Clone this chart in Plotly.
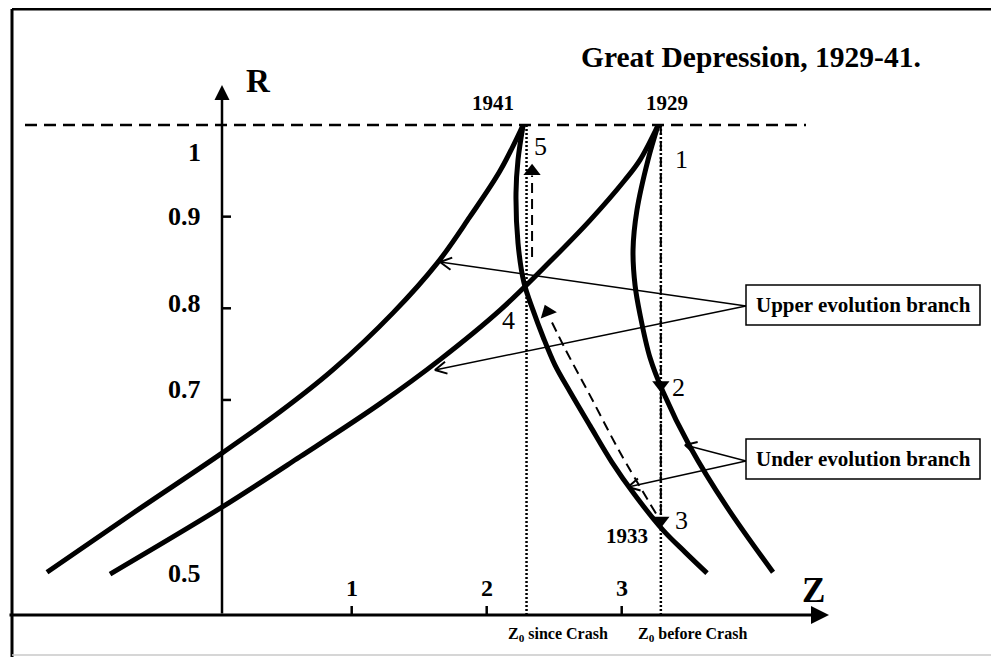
import math
import plotly.graph_objects as go

# ---------------- data (Z, R) ----------------
# Upper evolution branch ending at 1941 (left curve)
UP41_Z = [-1.257, -0.605, 0.039, 0.469, 0.862, 1.306, 1.632, 1.876, 2.099, 2.27]
UP41_R = [0.512, 0.578, 0.642, 0.687, 0.733, 0.795, 0.849, 0.900, 0.950, 1.0]
# Upper evolution branch ending at 1929
UP29_Z = [-0.790, 0.039, 0.617, 1.210, 1.654, 2.099, 2.469, 2.765, 3.024, 3.136, 3.27]
UP29_R = [0.510, 0.583, 0.638, 0.696, 0.744, 0.798, 0.851, 0.896, 0.940, 0.962, 1.0]
# Under evolution branch starting at 1941
UN41_Z = [2.27, 2.232, 2.217, 2.232, 2.276, 2.343, 2.417, 2.506, 2.617, 2.765, 2.928, 3.099,
          3.306, 3.469, 3.632]
UN41_R = [1.0, 0.962, 0.926, 0.871, 0.828, 0.798, 0.769, 0.738, 0.709, 0.672, 0.632, 0.596,
          0.558, 0.534, 0.511]
# Under evolution branch starting at 1929
UN29_Z = [3.27, 3.195, 3.113, 3.084, 3.099, 3.136, 3.210, 3.306, 3.506, 3.780, 4.121]
UN29_R = [1.0, 0.962, 0.907, 0.864, 0.825, 0.793, 0.746, 0.709, 0.649, 0.583, 0.512]

# Path of the economy (dashed arrows)
R_TOP = 1.0
Z0_SINCE = 2.295
Z0_BEFORE = 3.29
R_P2 = 0.709
R_P3 = 0.561
PATH34_Z = [3.254, 2.987, 2.765, 2.580, 2.469, 2.432]
PATH34_R = [0.576, 0.643, 0.705, 0.756, 0.789, 0.803]
PATH45_Z = [2.336, 2.336]
PATH45_R = [0.856, 0.957]

# Axes
Z_TICKS = [1, 2, 3]
Z_TICK_LABELS = ["1", "2", "3"]
R_TICKS = [0.9, 0.8, 0.7]
R_LABEL_VALUES = [1.0, 0.9, 0.8, 0.7, 0.5]
R_LABELS = ["1", "0.9", "0.8", "0.7", "0.5"]

# Callouts: box anchor (Z, R) and the curve points they point at
UPPER_ANCHOR = (3.921, 0.8025)
UPPER_TARGETS = [(1.654, 0.8505), (1.617, 0.7327)]
UNDER_ANCHOR = (3.921, 0.6334)
UNDER_TARGETS = [(3.469, 0.6508), (3.047, 0.6050)]

# ---------------- layout helpers ----------------
# page body has an 8px margin: the figure occupies window pixels 8..999 x 8..657
OFF = 8
W, H = 999 - OFF, 657 - OFF
PX_PER_Z = 135.0
PX_PER_R = 916.5
X_RANGE = [(OFF - 216.7) / PX_PER_Z, (999 - 216.7) / PX_PER_Z]
Y_RANGE = [1 - (657 - 125) / PX_PER_R, 1 + (125 - OFF) / PX_PER_R]
R_BASE = 0.4654
FONT = "Liberation Serif, Times New Roman, serif"


def px(x):
    return (x - OFF) / W


def py(y):
    return 1 - (y - OFF) / H


def unit(tail, tip):
    dx = (tip[0] - tail[0]) * PX_PER_Z
    dy = (tip[1] - tail[1]) * PX_PER_R
    L = math.hypot(dx, dy)
    return dx / L, dy / L


fig = go.Figure()

for zs, rs in [(UP41_Z, UP41_R), (UP29_Z, UP29_R), (UN41_Z, UN41_R), (UN29_Z, UN29_R)]:
    fig.add_trace(go.Scatter(x=zs, y=rs, mode="lines",
                             line=dict(color="black", width=5, shape="spline", smoothing=1.0),
                             hoverinfo="skip", showlegend=False))

DASH = "10px,6px"
# 1 -> 2, 2 -> 3
fig.add_trace(go.Scatter(x=[Z0_BEFORE, Z0_BEFORE], y=[R_TOP, R_P2 + 0.012], mode="lines",
                         line=dict(color="black", width=2, dash=DASH), showlegend=False))
fig.add_trace(go.Scatter(x=[Z0_BEFORE, Z0_BEFORE], y=[R_P2, R_P3 + 0.012], mode="lines",
                         line=dict(color="black", width=2, dash=DASH), showlegend=False))
# 3 -> 4
fig.add_trace(go.Scatter(x=PATH34_Z[:-1], y=PATH34_R[:-1], mode="lines",
                         line=dict(color="black", width=2, dash=DASH, shape="spline"),
                         showlegend=False))
# 4 -> 5
fig.add_trace(go.Scatter(x=PATH45_Z, y=[PATH45_R[0], PATH45_R[1] - 0.012], mode="lines",
                         line=dict(color="black", width=2, dash=DASH), showlegend=False))

# arrow heads of the dashed path, as oriented triangle markers
HEAD_SIZE = 15
heads = [((Z0_BEFORE, R_P2 + 0.02), (Z0_BEFORE, R_P2)),
         ((Z0_BEFORE, R_P3 + 0.02), (Z0_BEFORE, R_P3)),
         ((PATH34_Z[-2], PATH34_R[-2]), (PATH34_Z[-1], PATH34_R[-1])),
         ((PATH45_Z[0], PATH45_R[0]), (PATH45_Z[1], PATH45_R[1]))]
hx, hy, ha = [], [], []
for tail, tip in heads:
    ux, uy = unit(tail, tip)
    back = HEAD_SIZE * 0.45
    hx.append(tip[0] - ux * back / PX_PER_Z)
    hy.append(tip[1] - uy * back / PX_PER_R)
    ha.append(math.degrees(math.atan2(ux, uy)))
fig.add_trace(go.Scatter(x=hx, y=hy, mode="markers",
                         marker=dict(symbol="triangle-up", size=HEAD_SIZE, color="black", angle=ha,
                                     line=dict(width=0)),
                         hoverinfo="skip", showlegend=False))

# callout lines with open chevron heads
ARM = 13.0
ARM_ANGLE = math.radians(28)
for anchor, targets in [(UPPER_ANCHOR, UPPER_TARGETS), (UNDER_ANCHOR, UNDER_TARGETS)]:
    for tgt in targets:
        fig.add_trace(go.Scatter(x=[anchor[0], tgt[0]], y=[anchor[1], tgt[1]], mode="lines",
                                 line=dict(color="black", width=1.5), hoverinfo="skip",
                                 showlegend=False))
        ux, uy = unit(anchor, tgt)
        cx, cy = [], []
        for sgn in (1, -1):
            ca, sa = math.cos(sgn * ARM_ANGLE), math.sin(sgn * ARM_ANGLE)
            bx, by = -(ux * ca - uy * sa), -(ux * sa + uy * ca)
            cx.append(tgt[0] + bx * ARM / PX_PER_Z)
            cy.append(tgt[1] + by * ARM / PX_PER_R)
        fig.add_trace(go.Scatter(x=[cx[0], tgt[0], cx[1]], y=[cy[0], tgt[1], cy[1]], mode="lines",
                                 line=dict(color="black", width=2), hoverinfo="skip",
                                 showlegend=False))

shapes = []
# frame
shapes.append(dict(type="line", xref="paper", yref="paper", x0=px(12), x1=px(999), y0=py(9), y1=py(9),
                   line=dict(color="black", width=3)))
shapes.append(dict(type="line", xref="paper", yref="paper", x0=px(12), x1=px(12), y0=py(9), y1=py(657),
                   line=dict(color="black", width=3)))
shapes.append(dict(type="line", xref="paper", yref="paper", x0=px(12), x1=px(999), y0=py(655), y1=py(655),
                   line=dict(color="#c8c8c8", width=1.5)))
# R = 1 dashed level
shapes.append(dict(type="line", xref="paper", yref="y", x0=px(25), x1=px(806), y0=R_TOP, y1=R_TOP,
                   line=dict(color="black", width=2.5, dash="12px,7px")))
# Z0 dotted verticals
for z0 in [Z0_SINCE, Z0_BEFORE]:
    shapes.append(dict(type="line", xref="x", yref="y", x0=z0, x1=z0, y0=R_TOP, y1=R_BASE,
                       line=dict(color="black", width=2.5, dash="2px,2px")))
# ticks
for t in Z_TICKS:
    shapes.append(dict(type="line", xref="x", yref="paper", x0=t, x1=t, y0=py(615), y1=py(606),
                       line=dict(color="black", width=2.5)))
for t in R_TICKS:
    shapes.append(dict(type="line", xref="paper", yref="y", x0=px(222), x1=px(231), y0=t, y1=t,
                       line=dict(color="black", width=2.5)))
# callout boxes
for (y0, y1) in [(285, 325), (439, 479)]:
    shapes.append(dict(type="rect", xref="paper", yref="paper", x0=px(746), x1=px(980),
                       y0=py(y1), y1=py(y0), line=dict(color="black", width=1.5),
                       fillcolor="white"))

ann = []


def text(x, y, s, size, bold=True, xanchor="center"):
    ann.append(dict(x=px(x), y=py(y), xref="paper", yref="paper", text=("<b>%s</b>" % s) if bold else s,
                    showarrow=False, xanchor=xanchor, yanchor="middle",
                    font=dict(family=FONT, size=size, color="black")))


# axes arrows
ann.append(dict(x=px(829), y=py(615), xref="paper", yref="paper", ax=-(829 - OFF), ay=0, text="",
                showarrow=True, arrowhead=2, arrowsize=1.2, arrowwidth=3, arrowcolor="black", standoff=0))
ann.append(dict(x=px(222), y=py(85), xref="paper", yref="paper", ax=0, ay=530, text="",
                showarrow=True, arrowhead=2, arrowsize=1.2, arrowwidth=2.5, arrowcolor="black", standoff=0))

# texts
text(751, 57, "Great Depression, 1929-41.", 29.5)
text(258, 81, "R", 33)
text(813, 590, "Z", 35)
text(493, 103, "1941", 21)
text(667, 103, "1929", 21)
text(627, 536, "1933", 21)
text(863, 305, "Upper evolution branch", 21)
text(863, 459, "Under evolution branch", 21)
text(558, 634, "Z<sub>0</sub> since Crash", 16)
text(692, 634, "Z<sub>0</sub> before Crash", 16)
for s, (x, y) in zip(["1", "2", "3", "4", "5"],
                     [(681, 160), (678, 387), (681, 520), (508, 320), (540, 147)]):
    text(x, y, s, 26, bold=False)

# axis tick labels
Y_SHIFT = [-27, 0, 5, 10, 10]
for v, lab, sh in zip(R_LABEL_VALUES, R_LABELS, Y_SHIFT):
    ann.append(dict(x=px(203), y=v, xref="paper", yref="y", text="<b>%s</b>" % lab, showarrow=False,
                    xanchor="right", yanchor="middle", yshift=sh,
                    font=dict(family=FONT, size=26, color="black")))
for t, lab in zip(Z_TICKS, Z_TICK_LABELS):
    ann.append(dict(x=t, y=R_BASE, xref="x", yref="y", text="<b>%s</b>" % lab, showarrow=False,
                    xanchor="center", yanchor="middle", yshift=27,
                    font=dict(family=FONT, size=24, color="black")))

fig.update_layout(
    width=W, height=H, autosize=False,
    margin=dict(l=0, r=0, t=0, b=0, pad=0),
    paper_bgcolor="white", plot_bgcolor="white",
    xaxis=dict(range=X_RANGE, visible=False, fixedrange=True),
    yaxis=dict(range=Y_RANGE, visible=False, fixedrange=True),
    shapes=shapes, annotations=ann, showlegend=False,
)

fig.write_html("out.html")
